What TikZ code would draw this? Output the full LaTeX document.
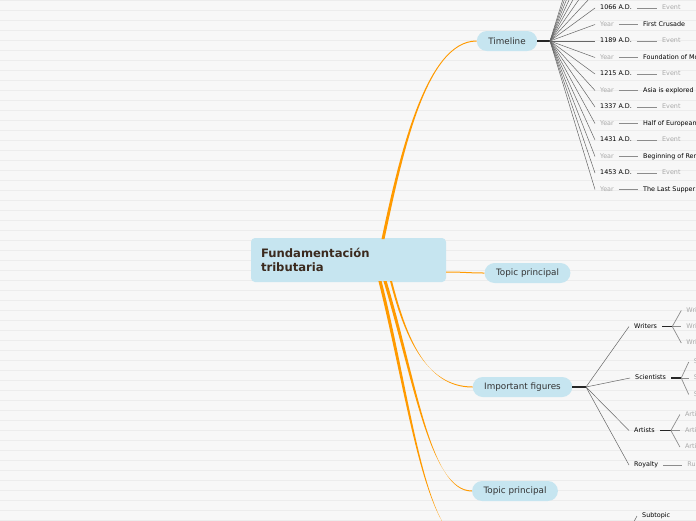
\documentclass[tikz,border=0pt]{standalone}
\usepackage{fontspec}
\setmainfont{DejaVu Sans}
\usepackage{xcolor}
\usetikzlibrary{positioning,calc}

\definecolor{paper}{HTML}{F7F7F7}
\definecolor{ruled}{HTML}{ECECEC}
\definecolor{bubble}{HTML}{C6E5F0}
\definecolor{branchc}{HTML}{FF9A00}
\definecolor{rootink}{HTML}{3B2A1E}
\definecolor{ink}{HTML}{333333}
\definecolor{faded}{HTML}{A8A8A8}

% orange branch, thick at the root, thin at the topic
\newcommand{\taper}[5]{%
  \fill[branchc] ($(#1)+(-#5,0)$) .. controls ($(#2)+(-#5,0)$) and ($(#3)+(0,-0.5)$) .. ($(#4)+(0,-0.5)$)
    -- ($(#4)+(0,0.5)$) .. controls ($(#3)+(0,0.5)$) and ($(#2)+(#5,0)$) .. ($(#1)+(#5,0)$) -- cycle;}

\begin{document}
\begin{tikzpicture}[x=1pt, y=-1pt,
    rootbox/.style={fill=bubble, rounded corners=4pt, text width=175pt, inner xsep=10pt,
      minimum height=44pt, align=left, text=rootink, font=\bfseries\fontsize{11.6}{14}\selectfont},
    topic/.style={fill=bubble, rounded corners=10pt, minimum height=20pt, inner xsep=11.5pt,
      text=ink, font=\fontsize{8.8}{10}\selectfont},
    small/.style={inner xsep=5pt, inner ysep=1pt, text height=5pt, text depth=1.5pt,
      anchor=west, font=\fontsize{6.4}{7.7}\selectfont},
    dark/.style={small, text=black},
    pale/.style={small, text=faded},
    hubline/.style={line width=1.6pt, black!85},
    spoke/.style={line width=0.5pt, black!60},
    leaf/.style={line width=0.7pt, black!45}]

  \useasboundingbox (0,0) rectangle (696,520);
  \clip (0,0) rectangle (696,520);
  \fill[paper] (0,0) rectangle (696,520);
  \foreach \y in {0,10,...,520}
    \draw[ruled, line width=0.8pt] (0,\y+0.3) -- (696,\y+0.3);

  % main topics
  \node[rootbox] (root) at (348.5,260) {Fundamentación\\tributaria};
  \node[topic] (tl) at (507,41) {Timeline};
  \node[topic] (tp1) at (527.5,273) {Topic principal};
  \node[topic] (fig) at (522.5,387) {Important figures};
  \node[topic] (tp2) at (515,491) {Topic principal};
  \coordinate (tp3) at (471,545);

  % orange branches
  \coordinate (r1) at (383,239);
  \coordinate (r2) at (391,281);
  \coordinate (r3) at (385,281);
  \coordinate (r4) at (380,281);
  \taper{r1}{400,160}{425,41}{tl.west}{1.5}
  \draw[branchc, line width=1pt] (root.east |- 0,272) .. controls (465,272) and (468,273) .. (tp1.west);
  \taper{r2}{405,335}{425,387}{fig.west}{1}
  \taper{r3}{415,380}{430,491}{tp2.west}{1.6}
  \taper{r4}{410,400}{425,545}{tp3}{1.6}

  % timeline
  \coordinate (tlhub) at (550,41);
  \draw[hubline] (tl.east) -- (tlhub);
  \foreach \y [count=\i] in {-8.5,-25,-41.5,-58,-74.5,-91,-107.5}{
    \coordinate (up\i) at (596,\y);
    \draw[spoke] (tlhub) -- (up\i);
  }
  \foreach \when/\what [count=\k from 0] in {1066 A.D./First Crusade,
      1189 A.D./Foundation of Mongol Empire, 1215 A.D./Asia is explored,
      1337 A.D./Half of European population dies, 1431 A.D./Beginning of Renaissance,
      1453 A.D./The Last Supper}{
    \node[dark] (d\k) at (595,{8+33*\k}) {\when};
    \node[pale, right=20pt of d\k] (e\k) {Event};
    \node[pale] (y\k) at (595,{24.5+33*\k}) {Year};
    \node[dark, right=19pt of y\k] (t\k) {\what};
    \draw[leaf] (d\k) -- (e\k);
    \draw[leaf] (y\k) -- (t\k);
    \draw[spoke] (tlhub) -- (d\k.west);
    \draw[spoke] (tlhub) -- (y\k.west);
  }

  % important figures
  \coordinate (fighub) at (586,387);
  \draw[hubline] (fig.east) -- (fighub);
  \node[dark] (wri) at (629,326.5) {Writers};
  \node[dark] (sci) at (630,378) {Scientists};
  \node[dark] (art) at (629,430.5) {Artists};
  \node[dark] (roy) at (629,465) {Royalty};
  \foreach \n in {wri,sci,art,roy}
    \draw[spoke] (fighub) -- (\n.west);

  \coordinate[right=10pt of wri] (wrihub);
  \coordinate[right=10pt of sci] (scihub);
  \coordinate[right=11pt of art] (arthub);
  \draw[hubline, line width=1.2pt] (wri) -- (wrihub);
  \draw[hubline, line width=1.2pt] (sci) -- (scihub);
  \draw[hubline, line width=1.2pt] (art) -- (arthub);
  \foreach \dy [count=\j] in {-16,0,16.5}{
    \node[pale] (wr\j) at ($(wrihub)+(9,\dy)$) {Writer};
    \node[pale] (sc\j) at ($(scihub)+(7.5,\dy)$) {Scientist};
    \node[pale] (ar\j) at ($(arthub)+(9,\dy)$) {Artist};
    \draw[leaf] (wrihub) -- (wr\j.west);
    \draw[leaf] (scihub) -- (sc\j.west);
    \draw[leaf] (arthub) -- (ar\j.west);
  }
  \node[pale, right=19pt of roy] (ru) {Ruler};
  \draw[leaf] (roy) -- (ru);

  % branch below the frame
  \coordinate (subhub) at (613,560);
  \node[dark] (sub) at (637,516) {Subtopic};
  \draw[spoke] (subhub) -- (sub.west);
\end{tikzpicture}
\end{document}
